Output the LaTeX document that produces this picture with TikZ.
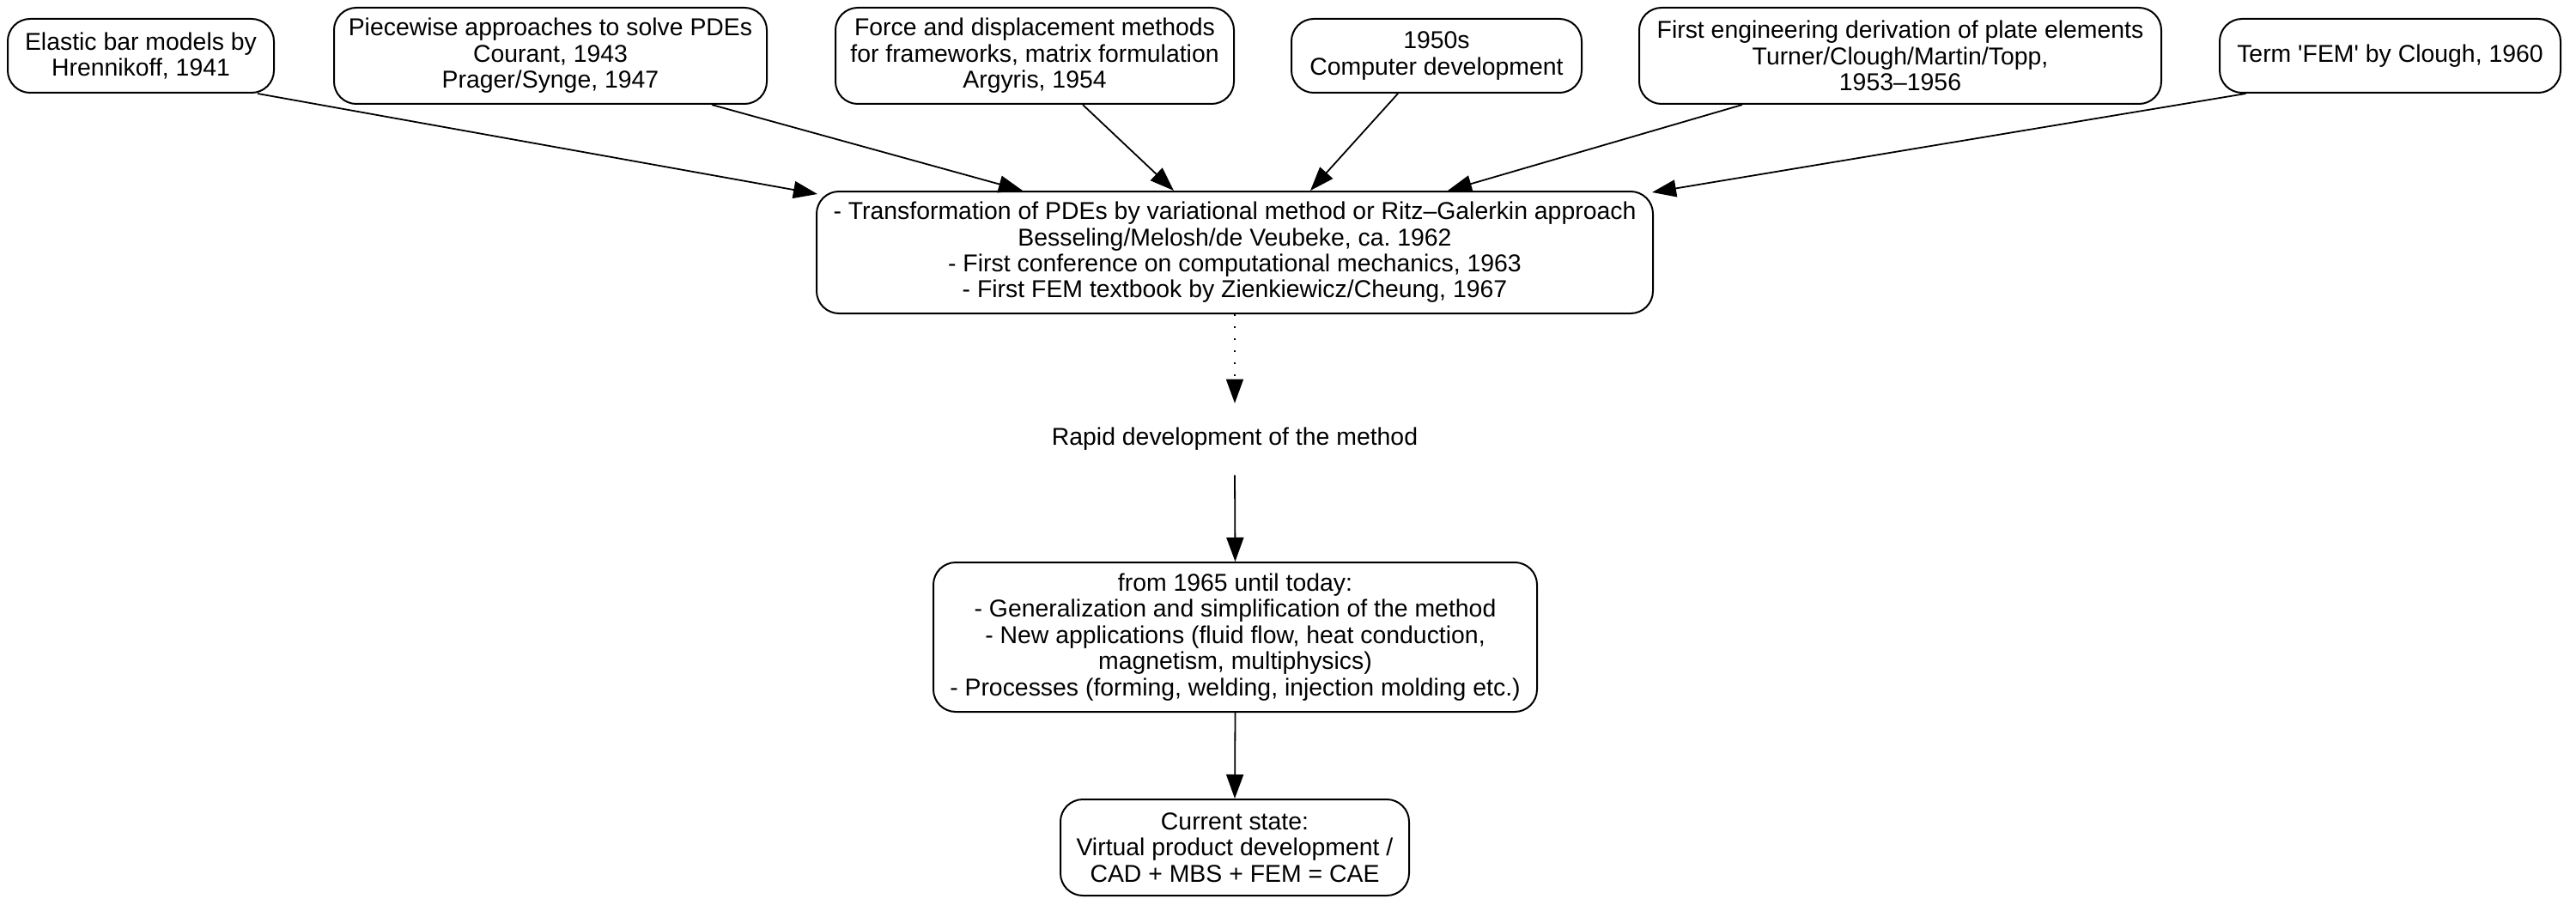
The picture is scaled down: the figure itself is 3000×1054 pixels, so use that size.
\documentclass[tikz,border=0pt]{standalone}
\usepackage{fontspec}
\setmainfont{Liberation Sans}
\usetikzlibrary{arrows.meta,calc}
\newcommand\diagfont{\fontsize{14.2pt}{15.2pt}\selectfont}
\frenchspacing
\begin{document}
\begin{tikzpicture}[x=0.5pt,y=-0.5pt,
  box/.style={draw, line width=1pt, rounded corners=13pt, align=center, inner sep=0pt, font=\diagfont},
  plain/.style={align=center, inner sep=0pt, font=\diagfont},
  arr/.style={line width=0.9pt, -{Triangle[length=14pt,width=10pt]}},
  dotarr/.style={line width=0.9pt, dash pattern=on 1pt off 6pt, -{Triangle[length=14pt,width=10pt]}}]
\useasboundingbox (0,0) rectangle (3000,1054);

\node[box, minimum width=155pt, minimum height=43pt] (b1) at (164,65) {Elastic bar models by\\Hrennikoff, 1941};
\node[box, minimum width=252pt, minimum height=56pt] (b2) at (641,65) {Piecewise approaches to solve PDEs\\Courant, 1943\\Prager/Synge, 1947};
\node[box, minimum width=232pt, minimum height=56pt] (b3) at (1205,65) {Force and displacement methods\\for frameworks, matrix formulation\\Argyris, 1954};
\node[box, minimum width=169pt, minimum height=43pt] (b4) at (1673,65) {1950s\\Computer development};
\node[box, minimum width=304pt, minimum height=56pt] (b5) at (2213,65) {First engineering derivation of plate elements\\Turner/Clough/Martin/Topp,\\1953–1956};
\node[box, minimum width=198.5pt, minimum height=43pt] (b6) at (2783.5,65) {Term \textquotesingle FEM\textquotesingle{} by Clough, 1960};

\node[box, minimum width=487pt, minimum height=71pt] (main) at (1438,294) {- Transformation of PDEs by variational method or Ritz–Galerkin approach\\Besseling/Melosh/de Veubeke, ca. 1962\\- First conference on computational mechanics, 1963\\- First FEM textbook by Zienkiewicz/Cheung, 1967};

\node[plain, minimum height=41.5pt] (rapid) at (1438,511.5) {Rapid development of the method};

\node[box, minimum width=351.5pt, minimum height=87pt] (now) at (1438.5,742) {from 1965 until today:\\- Generalization and simplification of the method\\- New applications (fluid flow, heat conduction,\\magnetism, multiphysics)\\- Processes (forming, welding, injection molding etc.)};

\node[box, minimum width=203pt, minimum height=56pt] (cur) at (1438,987) {Current state:\\Virtual product development /\\CAD + MBS + FEM = CAE};

\draw[arr] ([xshift=68pt]b1.south) -- ([xshift=1pt,yshift=-2pt]main.north west);
\draw[arr] ([xshift=94pt]b2.south) -- ([xshift=-123.5pt]main.north);
\draw[arr] ([xshift=28pt]b3.south) -- ([xshift=-35.5pt]main.north);
\draw[arr] ([xshift=-22.5pt]b4.south) -- ([xshift=44pt]main.north);
\draw[arr] ([xshift=-92pt]b5.south) -- ([xshift=124pt]main.north);
\draw[arr] ([xshift=-84pt]b6.south) -- ([xshift=-1pt,yshift=-1pt]main.north east);

\draw[dotarr] (main.south) -- (rapid.north);
\draw[arr] (rapid.south) -- (now.north);
\draw[arr] (now.south) -- (cur.north);
\end{tikzpicture}
\end{document}
